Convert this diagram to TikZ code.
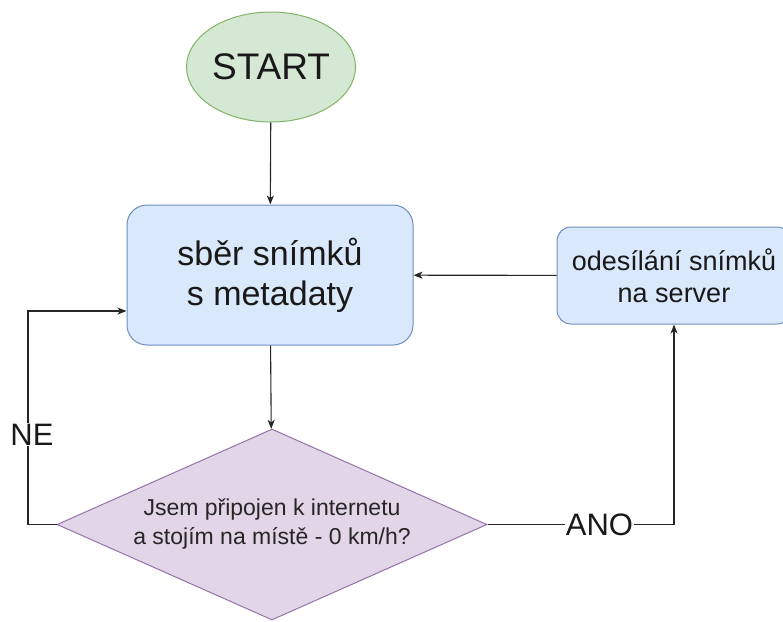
\documentclass[tikz,border=0pt]{standalone}
\usepackage{fontspec}
\setmainfont{Liberation Sans}
\usepackage{tikz}
\usetikzlibrary{arrows.meta, positioning, shapes.geometric}
\usepackage{xcolor}

\definecolor{startfill}{HTML}{D5E8D4}
\definecolor{startline}{HTML}{82B366}
\definecolor{boxfill}{HTML}{DAE8FC}
\definecolor{boxline}{HTML}{6C8EBF}
\definecolor{decfill}{HTML}{E1D5E7}
\definecolor{decline}{HTML}{9673A6}

\begin{document}
\begin{tikzpicture}[
  x=1pt, y=-1pt,
  >=Stealth,
  startnode/.style={ellipse, draw=startline, fill=startfill, line width=1pt, minimum width=169pt, minimum height=110pt, inner sep=0pt, text=black!90, font=\fontsize{37}{44}\selectfont},
  box/.style={rounded corners=20pt, draw=boxline, fill=boxfill, line width=1pt, align=center, inner sep=0pt, text=black!90},
  decision/.style={diamond, aspect=2.25, draw=decline, fill=decfill, line width=1pt, align=center, inner sep=0pt, text=black!85, font=\fontsize{23}{29}\selectfont},
  arrow/.style={-{Stealth[length=9pt, width=7pt, inset=2.5pt]}, line width=1.1pt, draw=black!85},
  lbl/.style={fill=white, inner sep=1pt, text=black!90, font=\fontsize{31}{37}\selectfont}
]

  \useasboundingbox (0,0) rectangle (783,621);
  \clip (0,0) rectangle (783,621);

  % UZLY ================================

  \node[startnode] (start) at (271,67) {START};
  \node[box, minimum width=286pt, minimum height=140pt, font=\fontsize{34}{40}\selectfont] (collect) at (270,275) {sběr snímků\\s metadaty};
  \node[box, rounded corners=14pt, minimum width=234pt, minimum height=97pt, font=\fontsize{27}{32}\selectfont] (send) at (674,275.5) {odesílání snímků\\na server};
  \node[decision, minimum width=430pt, minimum height=191pt] (check) at (272,524.5) {Jsem připojen k internetu\\a stojím na místě - 0 km/h?};

  % bod pro zpětnou větev
  \coordinate (nebend) at (28,311);

  % Šipky ===============================

  \draw[arrow] (start) -- (collect);
  \draw[arrow] (collect) -- (check);
  % ANO
  \draw[arrow] (check.east) -| node[lbl, pos=0.3] {ANO} (send.south);
  \draw[arrow] (send) -- (collect);
  % NE
  \draw[arrow] (check.west) -| node[lbl, pos=0.71, xshift=4pt] {NE} (nebend) -- (collect.west |- nebend);

\end{tikzpicture}
\end{document}
